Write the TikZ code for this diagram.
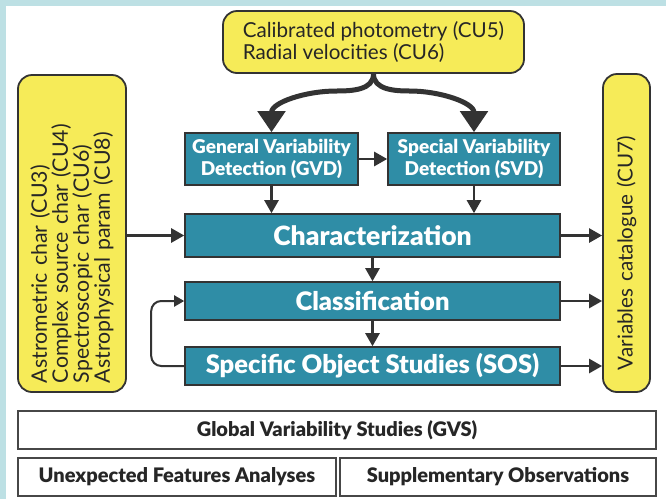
\documentclass[tikz,border=0pt]{standalone}
\usepackage{fontspec}
\setmainfont{Lato}
\newfontfamily\heavyfont{Lato Black}
\usetikzlibrary{arrows.meta}

\definecolor{frameteal}{HTML}{BDE0E4}
\definecolor{boxteal}{HTML}{2F8DA6}
\definecolor{inyellow}{HTML}{F6EB58}
\definecolor{edgegray}{HTML}{333333}

\begin{document}
\begin{tikzpicture}[x=1pt,y=-1pt,
  inbox/.style={draw=edgegray, line width=1.8pt, fill=inyellow, rounded corners=14pt, inner sep=0pt,
    font=\fontsize{20.6}{21.5}\selectfont, text=black!85},
  stepbox/.style={draw=edgegray, line width=1.6pt, fill=boxteal, text=white, inner sep=0pt, align=center},
  studybox/.style={draw=edgegray!90, line width=1.5pt, fill=white, inner sep=0pt, minimum height=38pt,
    font=\heavyfont\fontsize{20}{22}\selectfont, text=black!85},
  flow/.style={draw=edgegray, line width=2.6pt, -{Triangle[width=14pt,length=13pt]}},
  bigflow/.style={draw=edgegray, line width=5pt, -{Triangle[width=27pt,length=21pt]}},
  loopflow/.style={draw=edgegray, line width=2pt, rounded corners=10pt, -{Triangle[width=11pt,length=10pt]}}]
% frame
\fill[frameteal] (0,0) rectangle (666,499);
\fill[white] (6,6) rectangle (666,499);
\useasboundingbox (0,0) rectangle (666,499);

% inputs and output
\node[inbox, minimum width=301pt, minimum height=62pt, align=left] (photo) at (373.5,42)
  {Calibrated photometry (CU5)\\Radial velocities (CU6)};
\node[inbox, rotate=90, minimum height=108pt, text width=299pt, inner xsep=9pt, align=left,
  font=\fontsize{21.3}{21}\selectfont] (charin) at (72,233.5)
  {Astrometric char (CU3)\\Complex source char (CU4)\\Spectroscopic char (CU6)\\Astrophysical param (CU8)};
\node[inbox, rotate=90, minimum height=47pt, text width=274pt, inner xsep=22pt, align=left] (catalog) at (626.5,233)
  {Variables catalogue (CU7)};

% processing steps
\node[stepbox, minimum width=173pt, minimum height=52pt, font=\heavyfont\fontsize{19}{21.5}\selectfont] (gvd) at (271.5,159)
  {General Variability\\Detection (GVD)};
\node[stepbox, minimum width=172pt, minimum height=52pt, font=\heavyfont\fontsize{19}{21.5}\selectfont] (svd) at (474,159)
  {Special Variability\\Detection (SVD)};
\node[stepbox, minimum width=375pt, minimum height=43pt, font=\heavyfont\fontsize{26.5}{28}\selectfont] (charact) at (372.5,235.5)
  {Characterization};
\node[stepbox, minimum width=375pt, minimum height=38pt, font=\heavyfont\fontsize{25.5}{27}\selectfont] (classif) at (372.5,301)
  {Classification};
\node[stepbox, minimum width=375pt, minimum height=38pt, font=\heavyfont\fontsize{25.5}{27}\selectfont] (sos) at (372.5,366)
  {Specific Object Studies (SOS)};

% studies
\node[studybox, minimum width=638pt] (gvs) at (337,430) {Global Variability Studies (GVS)};
\node[studybox, minimum width=318pt] (ufa) at (177,477) {Unexpected Features Analyses};
\node[studybox, minimum width=316pt] (supp) at (498,477) {Supplementary Observations};

% fork from the photometry box
\coordinate (forkl) at (336,91);
\coordinate (forkr) at (410,91);
\draw[bigflow] (photo.south) to[out=-90,in=0] (forkl) to[out=180,in=90] (gvd.north);
\draw[bigflow] (photo.south) to[out=-90,in=180] (forkr) to[out=0,in=90] (svd.north);

\draw[flow] (gvd.east) -- (svd.west);
\draw[flow] (gvd.south) -- (charact.north -| gvd.south);
\draw[flow] (svd.south) -- (charact.north -| svd.south);
\draw[flow] (charin.south |- charact.west) -- (charact.west);
\draw[flow] (charact.south) -- (classif.north);
\draw[flow] (classif.south) -- (sos.north);
\draw[flow] (charact.east) -- (charact.east -| catalog.north);
\draw[flow] (classif.east) -- (classif.east -| catalog.north);
\draw[flow] (sos.east) -- (sos.east -| catalog.north);
\draw[loopflow] (sos.west) -- ++(-33,0) |- (classif.west);
\end{tikzpicture}
\end{document}
